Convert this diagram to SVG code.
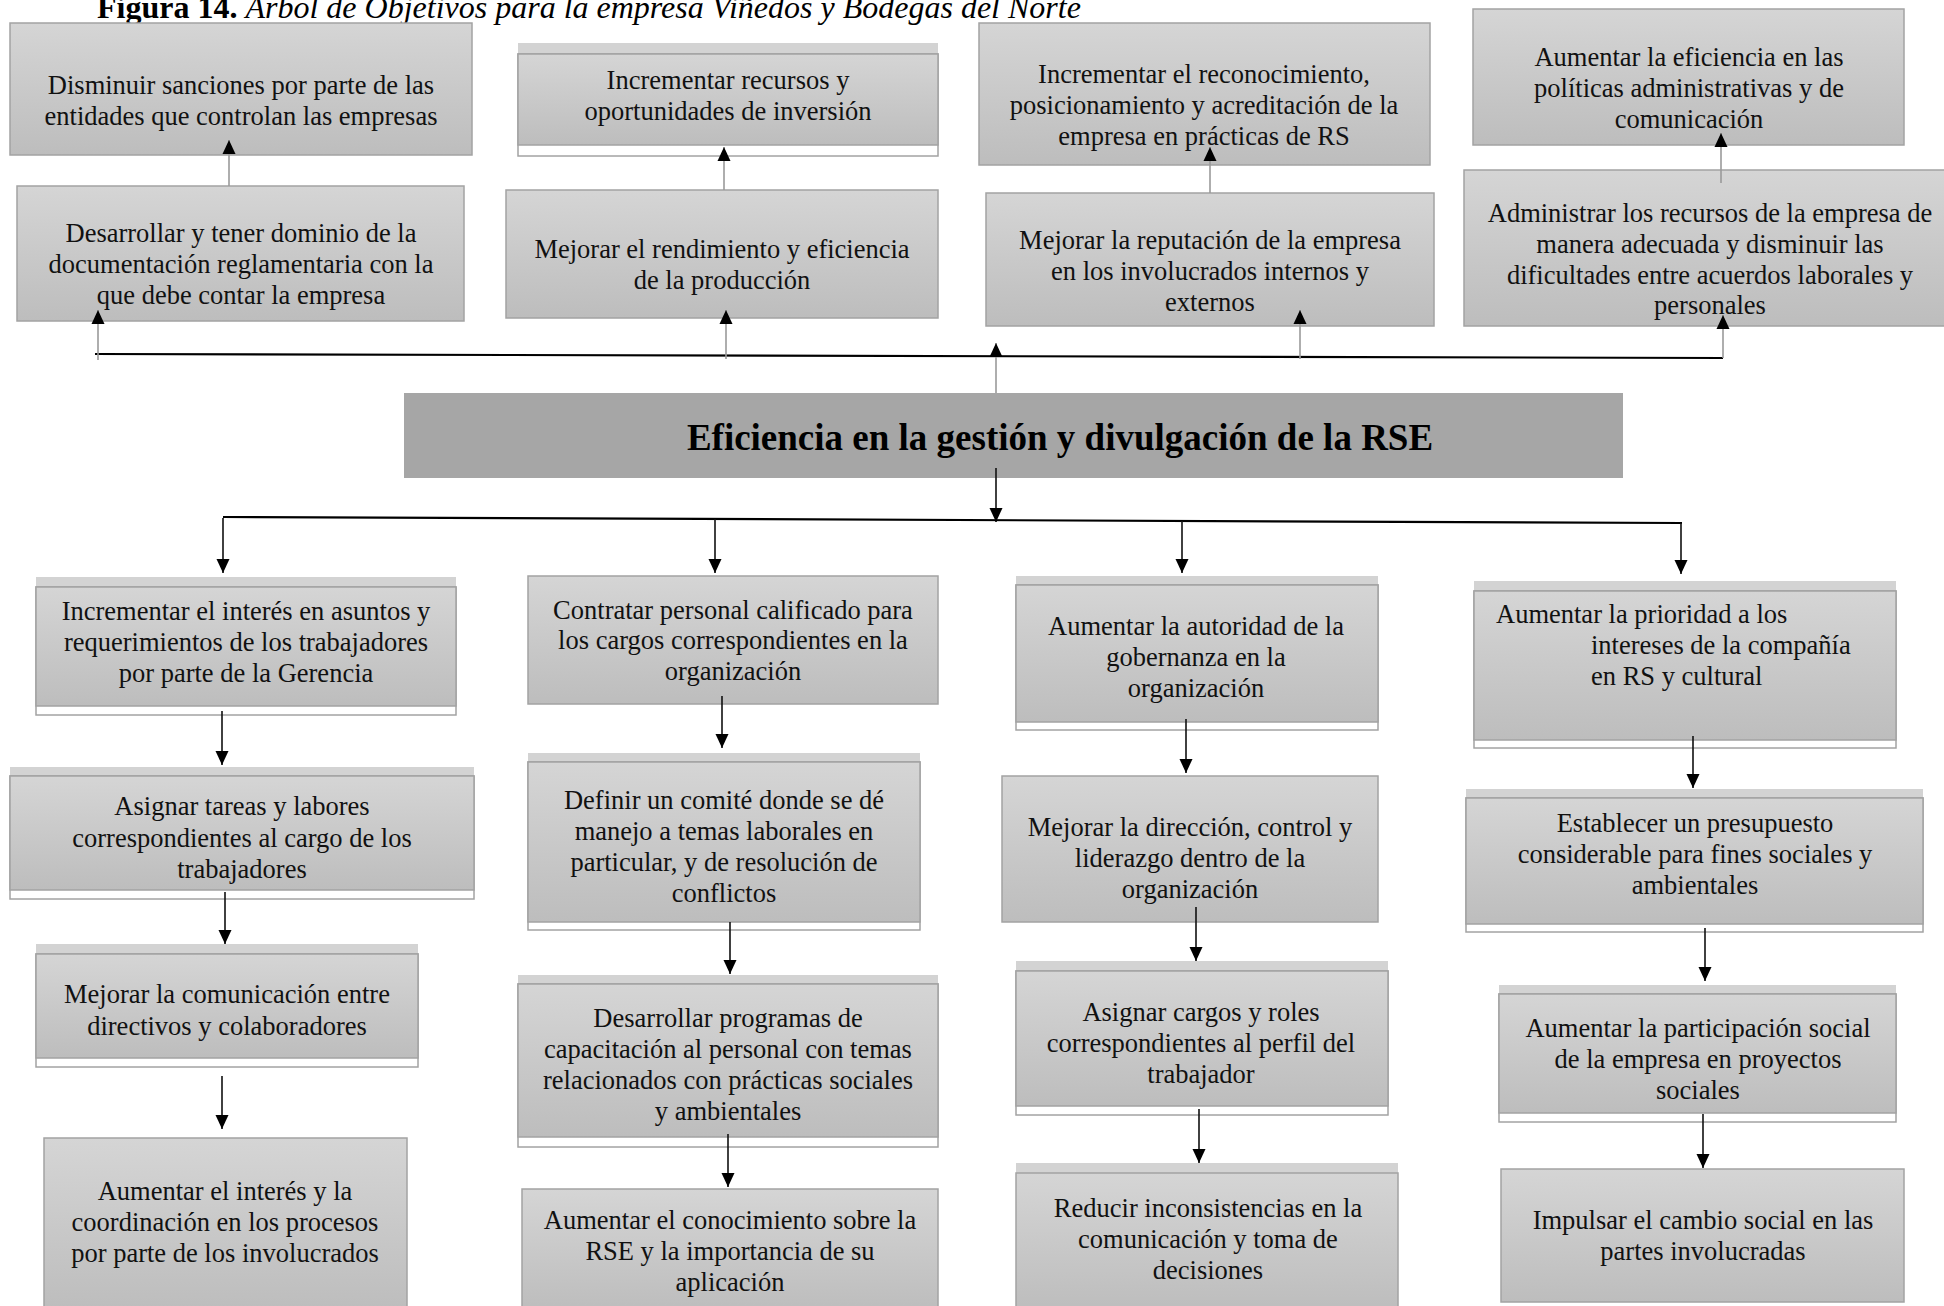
<svg xmlns="http://www.w3.org/2000/svg" width="1944" height="1306" viewBox="0 0 1944 1306">
  <defs>
    <linearGradient id="boxFill" x1="0" y1="0" x2="0" y2="1">
      <stop offset="0" stop-color="#d5d5d5"/>
      <stop offset="1" stop-color="#bdbdbd"/>
    </linearGradient>
    <marker id="head" viewBox="0 0 14 14" markerWidth="14" markerHeight="14" refX="14" refY="7" orient="auto" markerUnits="userSpaceOnUse">
      <path d="M0,0.5 L14,7 L0,13.5 z" fill="#000"/>
    </marker>
    <style>
      .box { fill: url(#boxFill); stroke: #a3a3a3; stroke-width: 1.5; }
      .strip { fill: #d3d3d3; stroke: none; }
      .frame { fill: #ffffff; stroke: #a3a3a3; stroke-width: 1.5; }
      .main { fill: #a6a6a6; stroke: none; }
      .t { font-family: "Liberation Serif", "Times New Roman", serif; font-size: 26.5px; fill: #111; text-anchor: middle; }
      .tl { font-family: "Liberation Serif", "Times New Roman", serif; font-size: 26.5px; fill: #111; text-anchor: start; }
      .title { font-family: "Liberation Serif", "Times New Roman", serif; font-size: 37px; font-weight: bold; fill: #000; text-anchor: middle; }
      .cap { font-family: "Liberation Serif", "Times New Roman", serif; font-size: 32px; fill: #000; }
      .up { stroke: #9a9a9a; stroke-width: 1.6; fill: none; marker-end: url(#head); }
      .down { stroke: #111; stroke-width: 1.6; fill: none; marker-end: url(#head); }
      .bar { stroke: #000; stroke-width: 2.2; fill: none; }
    </style>
  </defs>

  <rect width="1944" height="1306" fill="#ffffff"/>

  <!-- figure caption -->
  <text class="cap" x="97" y="18"><tspan font-weight="bold">Figura 14.</tspan><tspan font-style="italic"> Árbol de Objetivos para la empresa Viñedos y Bodegas del Norte</tspan></text>

  <!-- upper row: objectives -->
  <g id="a1">
    <rect class="box" x="10" y="23" width="462" height="132"/>
    <text class="t" x="241" y="94">Disminuir sanciones por parte de las</text>
    <text class="t" x="241" y="125">entidades que controlan las empresas</text>
  </g>
  <g id="a2">
    <rect class="strip" x="518" y="43" width="420" height="11"/>
    <rect class="frame" x="518" y="54" width="420" height="102"/>
    <rect class="box" x="518" y="54" width="420" height="91"/>
    <text class="t" x="728" y="89">Incrementar recursos y</text>
    <text class="t" x="728" y="120">oportunidades de inversión</text>
  </g>
  <g id="a3">
    <rect class="box" x="979" y="23" width="451" height="142"/>
    <text class="t" x="1204" y="83">Incrementar el reconocimiento,</text>
    <text class="t" x="1204" y="114">posicionamiento y acreditación de la</text>
    <text class="t" x="1204" y="145">empresa en prácticas de RS</text>
  </g>
  <g id="a4">
    <rect class="box" x="1473" y="9" width="431" height="136"/>
    <text class="t" x="1689" y="66">Aumentar la eficiencia en las</text>
    <text class="t" x="1689" y="97">políticas administrativas y de</text>
    <text class="t" x="1689" y="128">comunicación</text>
  </g>

  <!-- upper row: means -->
  <g id="b1">
    <rect class="box" x="17" y="186" width="447" height="135"/>
    <text class="t" x="241" y="242">Desarrollar y tener dominio de la</text>
    <text class="t" x="241" y="273">documentación reglamentaria con la</text>
    <text class="t" x="241" y="304">que debe contar la empresa</text>
  </g>
  <g id="b2">
    <rect class="box" x="506" y="190" width="432" height="128"/>
    <text class="t" x="722" y="258">Mejorar el rendimiento y eficiencia</text>
    <text class="t" x="722" y="289">de la producción</text>
  </g>
  <g id="b3">
    <rect class="box" x="986" y="193" width="448" height="133"/>
    <text class="t" x="1210" y="249">Mejorar la reputación de la empresa</text>
    <text class="t" x="1210" y="280">en los involucrados internos y</text>
    <text class="t" x="1210" y="311">externos</text>
  </g>
  <g id="b4">
    <rect class="box" x="1464" y="170" width="494" height="156"/>
    <text class="t" x="1710" y="222">Administrar los recursos de la empresa de</text>
    <text class="t" x="1710" y="253">manera adecuada y disminuir las</text>
    <text class="t" x="1710" y="284">dificultades entre acuerdos laborales y</text>
    <text class="t" x="1710" y="314">personales</text>
  </g>

  <!-- central objective -->
  <g id="core">
    <rect class="main" x="404" y="393" width="1219" height="85"/>
    <text class="title" x="1060" y="450">Eficiencia en la gestión y divulgación de la RSE</text>
  </g>

  <!-- column 1 -->
  <g id="c1">
    <rect class="strip" x="36" y="577" width="420" height="10"/>
    <rect class="frame" x="36" y="587" width="420" height="128"/>
    <rect class="box" x="36" y="587" width="420" height="119"/>
    <text class="t" x="246" y="620">Incrementar el interés en asuntos y</text>
    <text class="t" x="246" y="651">requerimientos de los trabajadores</text>
    <text class="t" x="246" y="682">por parte de la Gerencia</text>
  </g>
  <g id="c2">
    <rect class="strip" x="10" y="767" width="464" height="9"/>
    <rect class="frame" x="10" y="776" width="464" height="123"/>
    <rect class="box" x="10" y="776" width="464" height="114"/>
    <text class="t" x="242" y="815">Asignar tareas y labores</text>
    <text class="t" x="242" y="847">correspondientes al cargo de los</text>
    <text class="t" x="242" y="878">trabajadores</text>
  </g>
  <g id="c3">
    <rect class="strip" x="36" y="944" width="382" height="10"/>
    <rect class="frame" x="36" y="954" width="382" height="113"/>
    <rect class="box" x="36" y="954" width="382" height="104"/>
    <text class="t" x="227" y="1003">Mejorar la comunicación entre</text>
    <text class="t" x="227" y="1035">directivos y colaboradores</text>
  </g>
  <g id="c4">
    <rect class="box" x="44" y="1138" width="363" height="172"/>
    <text class="t" x="225" y="1200">Aumentar el interés y la</text>
    <text class="t" x="225" y="1231">coordinación en los procesos</text>
    <text class="t" x="225" y="1262">por parte de los involucrados</text>
  </g>

  <!-- column 2 -->
  <g id="d1">
    <rect class="box" x="528" y="576" width="410" height="128"/>
    <text class="t" x="733" y="619">Contratar personal calificado para</text>
    <text class="t" x="733" y="649">los cargos correspondientes en la</text>
    <text class="t" x="733" y="680">organización</text>
  </g>
  <g id="d2">
    <rect class="strip" x="528" y="753" width="392" height="9"/>
    <rect class="frame" x="528" y="762" width="392" height="168"/>
    <rect class="box" x="528" y="762" width="392" height="160"/>
    <text class="t" x="724" y="809">Definir un comité donde se dé</text>
    <text class="t" x="724" y="840">manejo a temas laborales en</text>
    <text class="t" x="724" y="871">particular, y de resolución de</text>
    <text class="t" x="724" y="902">conflictos</text>
  </g>
  <g id="d3">
    <rect class="strip" x="518" y="975" width="420" height="9"/>
    <rect class="frame" x="518" y="984" width="420" height="163"/>
    <rect class="box" x="518" y="984" width="420" height="153"/>
    <text class="t" x="728" y="1027">Desarrollar programas de</text>
    <text class="t" x="728" y="1058">capacitación al personal con temas</text>
    <text class="t" x="728" y="1089">relacionados con prácticas sociales</text>
    <text class="t" x="728" y="1120">y ambientales</text>
  </g>
  <g id="d4">
    <rect class="box" x="522" y="1189" width="416" height="121"/>
    <text class="t" x="730" y="1229">Aumentar el conocimiento sobre la</text>
    <text class="t" x="730" y="1260">RSE y la importancia de su</text>
    <text class="t" x="730" y="1291">aplicación</text>
  </g>

  <!-- column 3 -->
  <g id="e1">
    <rect class="strip" x="1016" y="576" width="362" height="9"/>
    <rect class="frame" x="1016" y="585" width="362" height="145"/>
    <rect class="box" x="1016" y="585" width="362" height="137"/>
    <text class="t" x="1196" y="635">Aumentar la autoridad de la</text>
    <text class="t" x="1196" y="666">gobernanza en la</text>
    <text class="t" x="1196" y="697">organización</text>
  </g>
  <g id="e2">
    <rect class="box" x="1002" y="776" width="376" height="146"/>
    <text class="t" x="1190" y="836">Mejorar la dirección, control y</text>
    <text class="t" x="1190" y="867">liderazgo dentro de la</text>
    <text class="t" x="1190" y="898">organización</text>
  </g>
  <g id="e3">
    <rect class="strip" x="1016" y="961" width="372" height="10"/>
    <rect class="frame" x="1016" y="971" width="372" height="144"/>
    <rect class="box" x="1016" y="971" width="372" height="135"/>
    <text class="t" x="1201" y="1021">Asignar cargos y roles</text>
    <text class="t" x="1201" y="1052">correspondientes al perfil del</text>
    <text class="t" x="1201" y="1083">trabajador</text>
  </g>
  <g id="e4">
    <rect class="strip" x="1016" y="1163" width="382" height="10"/>
    <rect class="box" x="1016" y="1173" width="382" height="137"/>
    <text class="t" x="1208" y="1217">Reducir inconsistencias en la</text>
    <text class="t" x="1208" y="1248">comunicación y toma de</text>
    <text class="t" x="1208" y="1279">decisiones</text>
  </g>

  <!-- column 4 -->
  <g id="f1">
    <rect class="strip" x="1474" y="581" width="422" height="10"/>
    <rect class="frame" x="1474" y="591" width="422" height="157"/>
    <rect class="box" x="1474" y="591" width="422" height="149"/>
    <text class="tl" x="1496" y="623">Aumentar la prioridad a los</text>
    <text class="tl" x="1591" y="654">intereses de la compañía</text>
    <text class="tl" x="1591" y="685">en RS y cultural</text>
  </g>
  <g id="f2">
    <rect class="strip" x="1466" y="789" width="457" height="9"/>
    <rect class="frame" x="1466" y="798" width="457" height="134"/>
    <rect class="box" x="1466" y="798" width="457" height="126"/>
    <text class="t" x="1695" y="832">Establecer un presupuesto</text>
    <text class="t" x="1695" y="863">considerable para fines sociales y</text>
    <text class="t" x="1695" y="894">ambientales</text>
  </g>
  <g id="f3">
    <rect class="strip" x="1499" y="985" width="397" height="9"/>
    <rect class="frame" x="1499" y="994" width="397" height="128"/>
    <rect class="box" x="1499" y="994" width="397" height="119"/>
    <text class="t" x="1698" y="1037">Aumentar la participación social</text>
    <text class="t" x="1698" y="1068">de la empresa en proyectos</text>
    <text class="t" x="1698" y="1099">sociales</text>
  </g>
  <g id="f4">
    <rect class="box" x="1501" y="1169" width="403" height="133"/>
    <text class="t" x="1703" y="1229">Impulsar el cambio social en las</text>
    <text class="t" x="1703" y="1260">partes involucradas</text>
  </g>

  <!-- connectors -->
  <g id="connectors">
    <!-- upper bus and upward links -->
    <path class="bar" d="M95,354 L1723,358"/>
    <path class="up" d="M98,360 L98,310"/>
    <path class="up" d="M726,359 L726,310"/>
    <path class="up" d="M996,393 L996,343"/>
    <path class="up" d="M1300,359 L1300,310"/>
    <path class="up" d="M1723,358 L1723,315"/>
    <path class="up" d="M229,186 L229,140"/>
    <path class="up" d="M724,190 L724,147"/>
    <path class="up" d="M1210,193 L1210,147"/>
    <path class="up" d="M1721,183 L1721,133"/>

    <!-- lower bus and downward links -->
    <path class="down" d="M996,468 L996,522"/>
    <path class="bar" d="M223,517 L1682,523"/>
    <path class="down" d="M223,518 L223,573"/>
    <path class="down" d="M715,519 L715,573"/>
    <path class="down" d="M1182,521 L1182,573"/>
    <path class="down" d="M1681,523 L1681,574"/>

    <path class="down" d="M222,711 L222,765"/>
    <path class="down" d="M225,892 L225,944"/>
    <path class="down" d="M222,1076 L222,1129"/>

    <path class="down" d="M722,696 L722,748"/>
    <path class="down" d="M730,922 L730,974"/>
    <path class="down" d="M728,1134 L728,1187"/>

    <path class="down" d="M1186,719 L1186,773"/>
    <path class="down" d="M1196,907 L1196,961"/>
    <path class="down" d="M1199,1109 L1199,1163"/>

    <path class="down" d="M1693,736 L1693,788"/>
    <path class="down" d="M1705,928 L1705,981"/>
    <path class="down" d="M1703,1114 L1703,1168"/>
  </g>
</svg>
